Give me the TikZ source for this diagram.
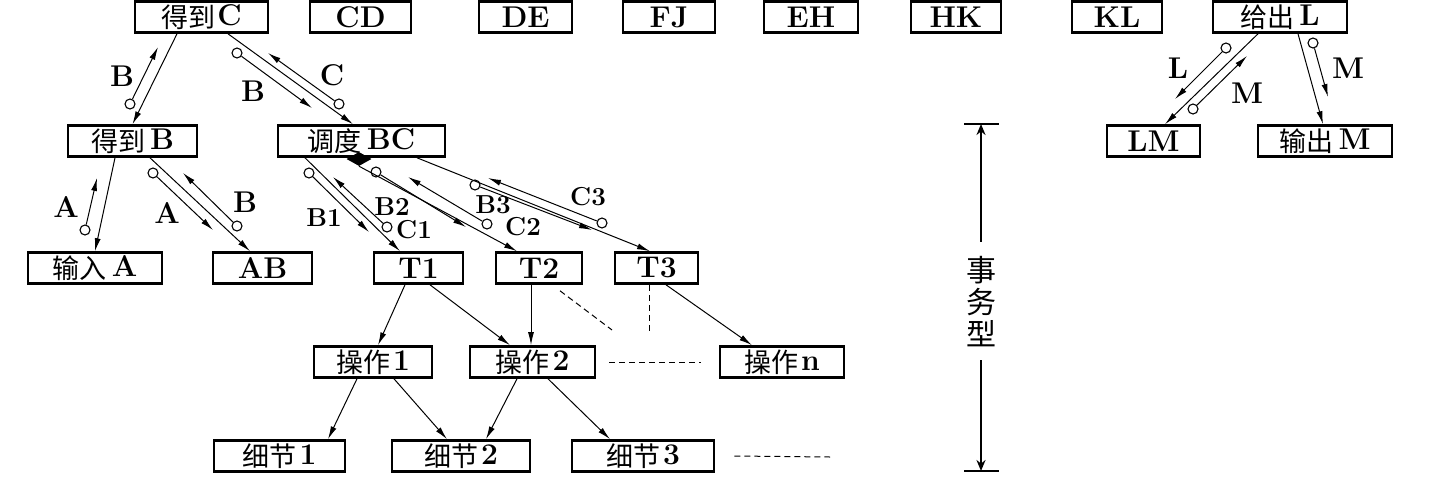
\documentclass[tikz,border=0pt]{standalone}
\usepackage{fontspec}
\newfontfamily\cjk{Noto Sans CJK SC}
\usetikzlibrary{arrows.meta,shapes.geometric}
\newcommand{\zh}[1]{\raisebox{-1.5pt}{\cjk\mdseries\fontsize{27}{28}\selectfont #1}}
\newcommand{\zhv}[1]{{\cjk\mdseries\fontsize{30}{31}\selectfont #1}}
\begin{document}
\begin{tikzpicture}[x=1pt,y=-1pt,
  box/.style={draw,line width=2.6pt,minimum height=31pt,inner sep=0pt,font=\fontsize{30}{31}\selectfont\bfseries},
  conn/.style={line width=1pt,-{Latex[length=13pt,width=6pt]}},
  flow/.style={line width=1pt,-{Latex[length=13pt,width=6pt]}},
  dot/.style={circle,draw,line width=1.1pt,minimum size=10pt,inner sep=0pt},
  lbl/.style={font=\fontsize{30}{31}\selectfont\bfseries,inner sep=0pt},
  slbl/.style={font=\fontsize{26}{27}\selectfont\bfseries,inner sep=0pt},
  dsh/.style={line width=1pt,dash pattern=on 6pt off 4pt},
  vline/.style={line width=2pt,-{Stealth[length=11pt,width=9pt]}},
  bar/.style={line width=1.8pt}]
\useasboundingbox (0,0) rectangle (1440,498);
% top row
\node[box,minimum width=133pt] (gC) at (201.5,17) {\zh{得到}\kern2pt C};
\node[box,minimum width=101pt] (CD) at (360.5,17) {CD};
\node[box,minimum width=93pt] (DE) at (525.5,17) {DE};
\node[box,minimum width=92pt] (FJ) at (669,17) {FJ};
\node[box,minimum width=94pt] (EH) at (811,17) {EH};
\node[box,minimum width=90pt] (HK) at (956,17) {HK};
\node[box,minimum width=90pt] (KL) at (1117,17) {KL};
\node[box,minimum width=134pt] (gL) at (1280,17) {\zh{给出}\,L};
% row 2
\node[box,minimum width=129pt] (gB) at (132.5,141) {\zh{得到}\,B};
\node[box,minimum width=167pt] (dBC) at (361.5,141) {\zh{调度}\,BC};
\node[box,minimum width=93pt] (LM) at (1153.5,141) {LM};
\node[box,minimum width=134pt] (oM) at (1325,141) {\zh{输出}\,M};
% row 3
\node[box,minimum width=134pt] (iA) at (95,268) {\zh{输入}\,A};
\node[box,minimum width=99pt] (AB) at (262.5,268) {AB};
\node[box,minimum width=89pt] (T1) at (418.5,268) {T1};
\node[box,minimum width=86pt] (T2) at (539,268) {T2};
\node[box,minimum width=83pt] (T3) at (656.5,268) {T3};
% row 4
\node[box,minimum width=118pt] (op1) at (373,362) {\zh{操作}\kern3pt 1};
\node[box,minimum width=125pt] (op2) at (532.5,362) {\zh{操作}\kern3pt 2};
\node[box,minimum width=124pt] (opn) at (782,362) {\zh{操作}\kern3pt n};
% row 5
\node[box,minimum width=131pt] (d1) at (279.5,456) {\zh{细节}\kern3pt 1};
\node[box,minimum width=138pt] (d2) at (461,456) {\zh{细节}\kern3pt 2};
\node[box,minimum width=142pt] (d3) at (643,456) {\zh{细节}\kern3pt 3};
% diamond
\node[diamond,fill,minimum width=25pt,minimum height=14pt,inner sep=0pt] (dia) at (359,159) {};
% main connectors
\draw[conn] ([xshift=-24.5pt]gC.south) -- (gB.north);
\draw[conn] ([xshift=26.5pt]gC.south) -- ([xshift=-8.5pt]dBC.north);
\draw[conn] ([xshift=-17.5pt]gB.south) -- (iA.north);
\draw[conn] ([xshift=17.5pt]gB.south) -- ([xshift=-12.5pt]AB.north);
\draw[conn] ([xshift=-56.5pt]dBC.south) -- ([xshift=-18.5pt]T1.north);
\draw[conn] (dia.south) -- ([xshift=-22pt]T2.north);
\draw[conn] ([xshift=55.5pt]dBC.south) -- ([xshift=-6.5pt]T3.north);
\draw[conn] ([xshift=-22pt]gL.south) -- ([xshift=11.5pt]LM.north);
\draw[conn] ([xshift=18pt]gL.south) -- ([xshift=-2pt]oM.north);
\draw[conn] ([xshift=-13.5pt]T1.south) -- ([xshift=5pt]op1.north);
\draw[conn] ([xshift=11.5pt]T1.south) -- ([xshift=-22.5pt]op2.north);
\draw[conn] ([xshift=-8pt]T2.south) -- ([xshift=-1.5pt]op2.north);
\draw[conn] ([xshift=9.5pt]T3.south) -- ([xshift=-30pt]opn.north);
\draw[conn] ([xshift=-16pt]op1.south) -- ([xshift=48.5pt]d1.north);
\draw[conn] ([xshift=21pt]op1.south) -- ([xshift=-14pt]d2.north);
\draw[conn] ([xshift=-15.5pt]op2.south) -- ([xshift=25pt]d2.north);
\draw[conn] ([xshift=15.5pt]op2.south) -- ([xshift=-33pt]d3.north);
% dashed
\coordinate (t2e) at (612,330);
\coordinate (t3e) at (649,333);
\coordinate (d3e) at (830,457);
\draw[dsh] ([xshift=21pt,yshift=-6pt]T2.south) -- (t2e);
\draw[dsh] ([xshift=-7.5pt]T3.south) -- (t3e);
\draw[dsh] ([xshift=13pt]op2.east) -- ([xshift=-18pt]opn.west);
\draw[dsh] ([xshift=19pt]d3.east) -- (d3e);
% flows: getC / getB
\node[dot] (f1) at (130,104) {}; \coordinate (f1t) at (158,47);
\draw[flow] (f1) -- (f1t);
\node[lbl] (l1) at (122,76) {B};
% getC / dBC
\node[dot] (f2) at (237,53) {}; \coordinate (f2t) at (312,108);
\draw[flow] (f2) -- (f2t);
\node[lbl] (l2) at (253,91) {B};
\node[dot] (f3) at (339,104) {}; \coordinate (f3t) at (268,53);
\draw[flow] (f3) -- (f3t);
\node[lbl] (l3) at (332,75) {C};
% getB / iA
\node[dot] (f4) at (85,230) {}; \coordinate (f4t) at (97,178);
\draw[flow] (f4) -- (f4t);
\node[lbl] (l4) at (66,207) {A};
% getB / AB
\node[dot] (f5) at (153,173) {}; \coordinate (f5t) at (213,230);
\draw[flow] (f5) -- (f5t);
\node[lbl] (l5) at (167,213) {A};
\node[dot] (f6) at (237,226) {}; \coordinate (f6t) at (183,173);
\draw[flow] (f6) -- (f6t);
\node[lbl] (l6) at (245,202) {B};
% dBC / T1
\node[dot] (f7) at (309,173) {}; \coordinate (f7t) at (369,232);
\draw[flow] (f7) -- (f7t);
\node[slbl] (l7) at (324,218) {B1};
\node[dot] (f8) at (387,227) {}; \coordinate (f8t) at (333,177);
\draw[flow] (f8) -- (f8t);
\node[slbl] (l8) at (392,207) {B2};
\node[slbl] (l9) at (414,230) {C1};
% dBC / T2
\node[dot] (f9) at (376,172) {}; \coordinate (f9t) at (466,227);
\draw[flow] (f9) -- (f9t);
\node[dot] (f10) at (487,224) {}; \coordinate (f10t) at (408,177);
\draw[flow] (f10) -- (f10t);
\node[slbl] (l10) at (493,205) {B3};
\node[slbl] (l11) at (523,227) {C2};
% dBC / T3
\node[dot] (f11) at (475,185) {}; \coordinate (f11t) at (592,230);
\draw[flow] (f11) -- (f11t);
\node[dot] (f12) at (602,223) {}; \coordinate (f12t) at (488,178);
\draw[flow] (f12) -- (f12t);
\node[slbl] (l12) at (588,197) {C3};
% gL / LM
\node[dot] (f13) at (1226,48) {}; \coordinate (f13t) at (1175,99);
\draw[flow] (f13) -- (f13t);
\node[lbl] (l13) at (1178,68) {L};
\node[dot] (f14) at (1193,109) {}; \coordinate (f14t) at (1247,56);
\draw[flow] (f14) -- (f14t);
\node[lbl] (l14) at (1247,93) {M};
% gL / oM
\node[dot] (f15) at (1313,43) {}; \coordinate (f15t) at (1328,97);
\draw[flow] (f15) -- (f15t);
\node[lbl] (l15) at (1348,68) {M};
% vertical scale
\coordinate (barT) at (981,124);
\coordinate (barB) at (981,471);
\draw[bar] ([xshift=-17pt]barT) -- ([xshift=18pt]barT);
\draw[bar] ([xshift=-17pt]barB) -- ([xshift=18pt]barB);
\node[inner sep=0pt] (shi) at (981,270) {\zhv{事}};
\node[inner sep=0pt] (wu) at (981,302) {\zhv{务}};
\node[inner sep=0pt] (xing) at (981,334) {\zhv{型}};
\draw[vline] ([yshift=14pt]shi.north) -- (barT);
\draw[vline] ([yshift=-13pt]xing.south) -- (barB);
\end{tikzpicture}
\end{document}
